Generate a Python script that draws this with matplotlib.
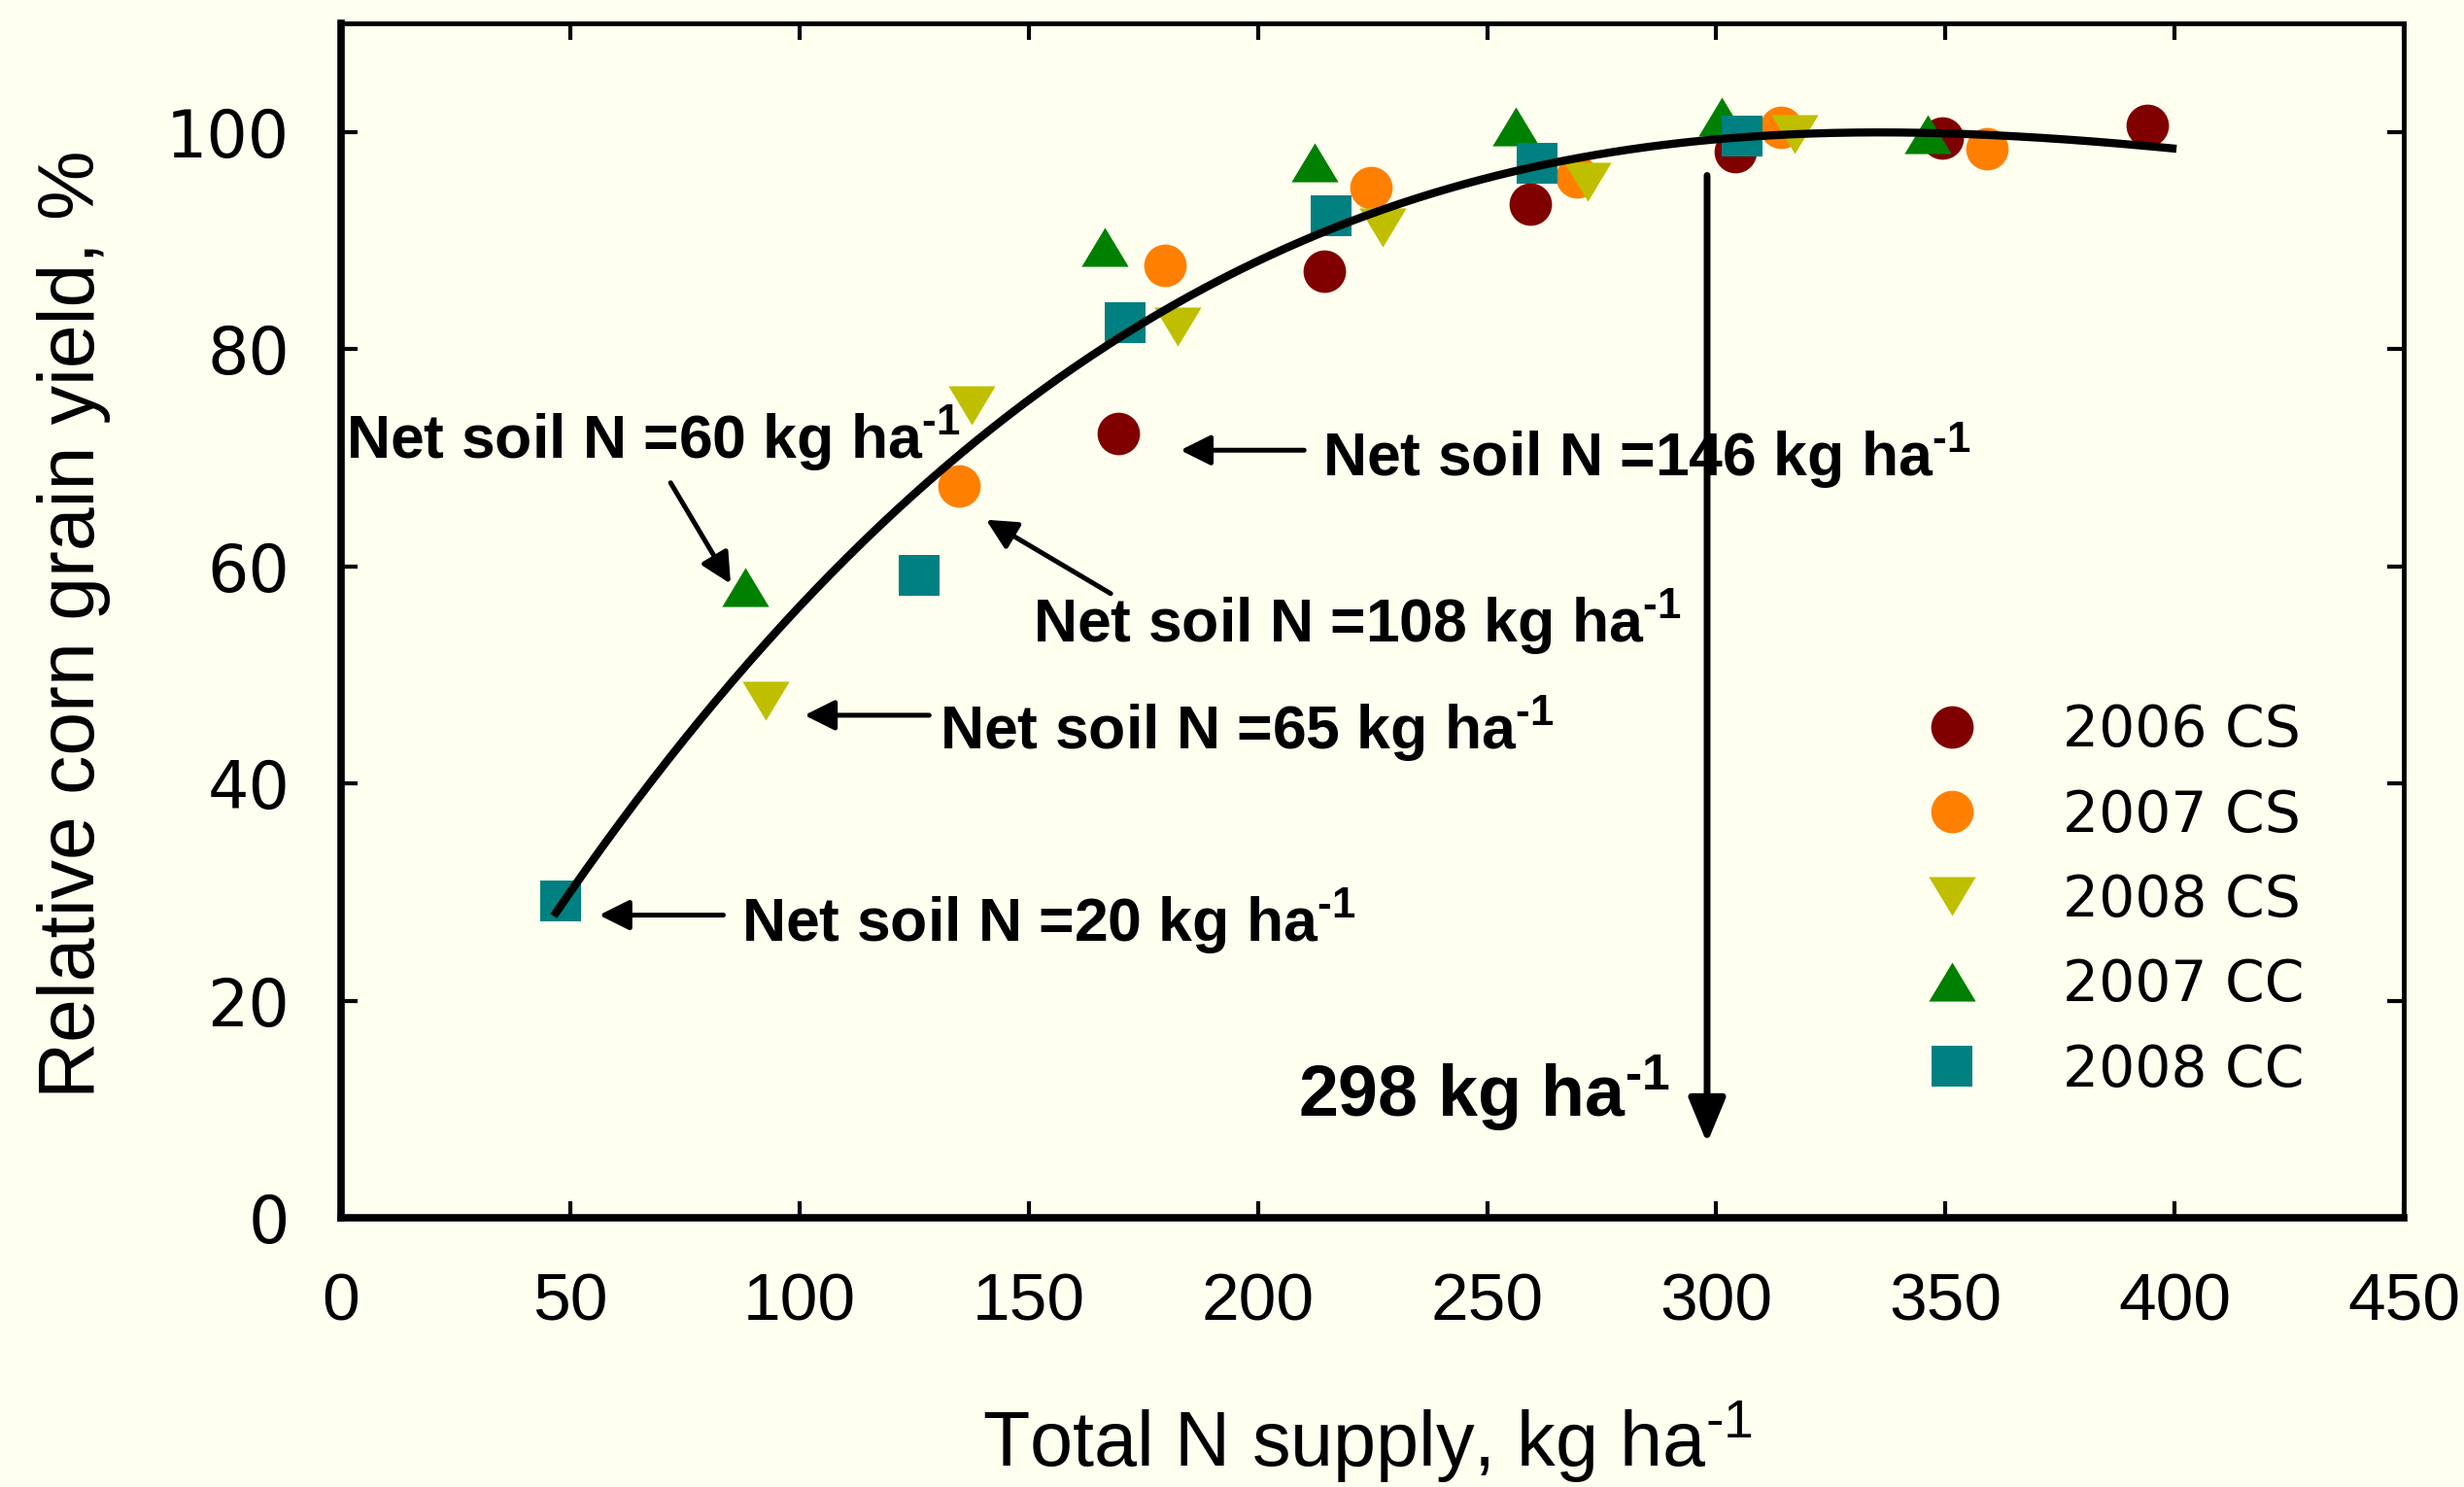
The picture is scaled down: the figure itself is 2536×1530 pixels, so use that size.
import numpy as np
import matplotlib
matplotlib.use("Agg")
import matplotlib.pyplot as plt
from matplotlib.path import Path

plt.rcParams['font.family'] = ['Liberation Sans', 'DejaVu Sans']
plt.rcParams['mathtext.default'] = 'regular'

# relative yield (%) against total N supply (kg/ha), by site-year
n_2006cs = [169.6, 214.6, 259.4, 304.2, 349.3, 394.0]
y_2006cs = [72.2, 87.2, 93.4, 98.2, 99.4, 100.6]
n_2007cs = [134.7, 179.7, 224.7, 269.5, 314.1, 359.1]
y_2007cs = [67.4, 87.7, 94.9, 95.9, 100.4, 98.5]
n_2008cs = [92.7, 137.6, 182.4, 227.3, 272.0, 317.0]
y_2008cs = [47.6, 74.8, 82.1, 91.2, 95.4, 99.8]
n_2007cc = [88.1, 166.7, 212.4, 256.3, 301.2, 346.1]
y_2007cc = [58.1, 89.4, 97.2, 100.5, 101.4, 99.8]
n_2008cc = [47.8, 126.2, 171.1, 216.0, 260.9, 305.7]
y_2008cc = [29.2, 59.2, 82.4, 92.3, 97.1, 99.6]

# response curve samples
curve_n = [46.4, 88.1, 116.4, 151.7, 187.0, 222.3, 264.7, 296.5, 337.5, 363.6, 400.4]
curve_y = [27.9, 51.0, 62.5, 76.0, 85.9, 92.0, 97.1, 99.1, 99.9, 99.65, 98.5]

optimum_n = 298

bg = '#FFFFF0'
sup = '$^{\u2010 1}$'
tri_up = Path([(-1, -0.83), (1, -0.83), (0, 0.83), (-1, -0.83)],
              [Path.MOVETO, Path.LINETO, Path.LINETO, Path.CLOSEPOLY])
tri_dn = Path([(-1, 0.83), (1, 0.83), (0, -0.83), (-1, 0.83)],
              [Path.MOVETO, Path.LINETO, Path.LINETO, Path.CLOSEPOLY])

fig = plt.figure(figsize=(25.36, 15.30), dpi=100, facecolor=bg)
ax = fig.add_axes([0.1384, 0.1808, 0.8372, 0.8035], facecolor=bg)

series = [
    (n_2006cs, y_2006cs, 'o', 31.5, '#800000', '2006 CS'),
    (n_2007cs, y_2007cs, 'o', 31.5, '#FF8000', '2007 CS'),
    (n_2008cs, y_2008cs, tri_dn, 34.8, '#BFBF00', '2008 CS'),
    (n_2007cc, y_2007cc, tri_up, 34.8, '#008000', '2007 CC'),
    (n_2008cc, y_2008cc, 's', 29.7, '#008080', '2008 CC'),
]
handles = []
for xs, ys, mk, ms, col, lab in series:
    h, = ax.plot(xs, ys, linestyle='none', marker=mk, markersize=ms,
                 color=col, markeredgewidth=0, label=lab, zorder=3)
    handles.append(h)

coef = np.polyfit(curve_n, curve_y, 3)
xx = np.linspace(curve_n[0], curve_n[-1], 300)
ax.plot(xx, np.polyval(coef, xx), color='black', lw=6, zorder=4,
        solid_capstyle='butt')

ax.set_xlim(0, 450)
ax.set_ylim(0, 110)
ax.set_xticks(np.arange(0, 451, 50))
ax.set_yticks(np.arange(0, 101, 20))

for side in ['left', 'bottom']:
    ax.spines[side].set_linewidth(5.5)
for side in ['top', 'right']:
    ax.spines[side].set_linewidth(3.5)

ax.tick_params(which='both', direction='in', top=True, right=True,
               length=12, width=3)
ax.tick_params(axis='x', pad=40, labelsize=50)
ax.tick_params(axis='y', pad=38, labelsize=48)
for lab in ax.get_yticklabels():
    lab.set_fontfamily('DejaVu Sans')

fig.text(0.030, 0.580, 'Relative corn grain yield, %', rotation=90,
         ha='center', va='center', fontsize=58)
fig.text(0.555, 0.014, 'Total N supply, kg ha' + sup,
         ha='center', va='baseline', fontsize=57)

arrow_kw = dict(arrowstyle='-|>,head_length=0.94,head_width=0.47',
                mutation_scale=20, lw=3.6, color='black',
                shrinkA=0, shrinkB=0)
notes = [
    ('Net soil N =60 kg ha', (1.0, 70.0), (71.9, 67.7), (85.0, 58.4)),
    ('Net soil N =65 kg ha', (130.5, 43.2), (128.3, 46.3), (101.1, 46.3)),
    ('Net soil N =20 kg ha', (87.3, 25.5), (83.4, 27.9), (56.3, 27.9)),
    ('Net soil N =108 kg ha', (150.9, 53.1), (167.9, 57.5), (140.7, 64.3)),
    ('Net soil N =146 kg ha', (214.1, 68.4), (210.1, 70.7), (183.1, 70.7)),
]
for txt, pos, tail, tip in notes:
    ax.text(pos[0], pos[1], txt + sup, ha='left', va='baseline',
            fontsize=45, fontweight='bold', zorder=3)
    ax.annotate('', xy=tip, xytext=tail, arrowprops=arrow_kw)

ax.annotate('', xy=(optimum_n, 6.9), xytext=(optimum_n, 96.0),
            arrowprops=dict(arrowstyle='-|>,head_length=1.4,head_width=0.58',
                            mutation_scale=20, lw=5, color='black',
                            shrinkA=0, shrinkB=0),
            zorder=5)
ax.text(208.8, 9.4, '%d kg ha' % optimum_n + sup, ha='left', va='baseline',
        fontsize=53, fontweight='bold')

ax.legend(handles=handles, loc='upper left', bbox_to_anchor=(0.7535, 0.455),
          frameon=False, borderpad=0, labelspacing=0.52, handlelength=1.0,
          handletextpad=1.45, numpoints=1,
          prop={'family': 'DejaVu Sans', 'size': 42})

fig.savefig('out.png', dpi=100, facecolor=bg)
